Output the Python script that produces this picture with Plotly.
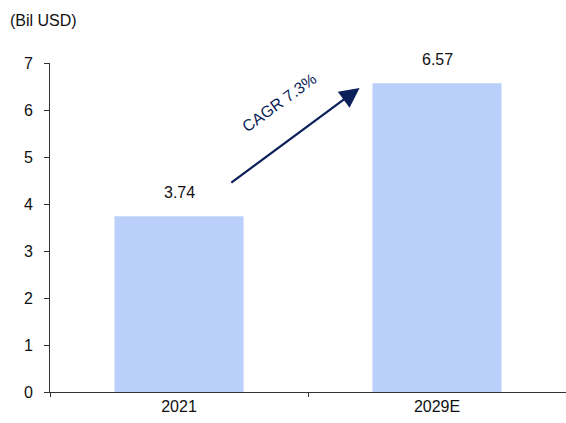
import plotly.graph_objects as go

categories = ["2021", "2029E"]
values = [3.74, 6.57]
value_labels = ["3.74", "6.57"]
y_ticks = [0, 1, 2, 3, 4, 5, 6, 7]
unit_label = "(Bil USD)"
cagr_label = "CAGR 7.3%"

FONT = "Liberation Sans Narrow, Arial Narrow, Liberation Sans, Arial, sans-serif"
BAR = "#bad0fb"
NAVY = "#0b1f58"

fig = go.Figure()
fig.add_trace(go.Bar(x=categories, y=values, width=0.5, marker=dict(color=BAR, line=dict(width=0)),
                     hoverinfo="skip"))

for i, (v, t) in enumerate(zip(values, value_labels)):
    fig.add_annotation(x=i, y=v, xref="x", yref="y", text=t, showarrow=False, yshift=24,
                       yanchor="middle", font=dict(family=FONT, size=16, color="#111111"))

# CAGR arrow
fig.add_annotation(x=0.7, y=6.47, ax=0.197, ay=4.43, xref="x", yref="y", axref="x", ayref="y",
                   showarrow=True, arrowhead=2, arrowsize=1.8, arrowwidth=2.2, arrowcolor=NAVY, text="")
fig.add_annotation(x=0.39, y=6.15, xref="x", yref="y", text=cagr_label, showarrow=False,
                   textangle=-36, font=dict(family=FONT, size=16, color=NAVY))

fig.add_annotation(x=0, y=1, xref="paper", yref="paper", xanchor="left", yanchor="middle",
                   xshift=-42, yshift=43, text=unit_label, showarrow=False,
                   font=dict(family=FONT, size=16, color="#111111"))

fig.update_layout(
    width=566, height=423,
    margin=dict(l=50, r=0, t=63, b=31),
    paper_bgcolor="white", plot_bgcolor="white",
    showlegend=False,
    font=dict(family=FONT, size=16, color="#111111"),
    bargap=0.5,
)
fig.update_xaxes(type="category", range=[-0.5, 1.5], showline=True, linecolor="#333333", linewidth=1,
                 ticks="outside", tickson="boundaries", ticklen=4, tickcolor="#333333",
                 showgrid=False, zeroline=False, tickfont=dict(family=FONT, size=16))
fig.update_yaxes(range=[0, 7], tickvals=y_ticks, showline=True, linecolor="#333333", linewidth=1,
                 ticks="outside", ticklen=5, tickcolor="#333333", showgrid=False, zeroline=False,
                 ticklabelstandoff=8, tickfont=dict(family=FONT, size=16))

fig.write_html(
    "out.html",
    config={"displayModeBar": False, "staticPlot": True},
    post_script="document.body.style.margin='0';document.body.style.overflow='hidden';"
                "document.documentElement.style.overflow='hidden';",
)
